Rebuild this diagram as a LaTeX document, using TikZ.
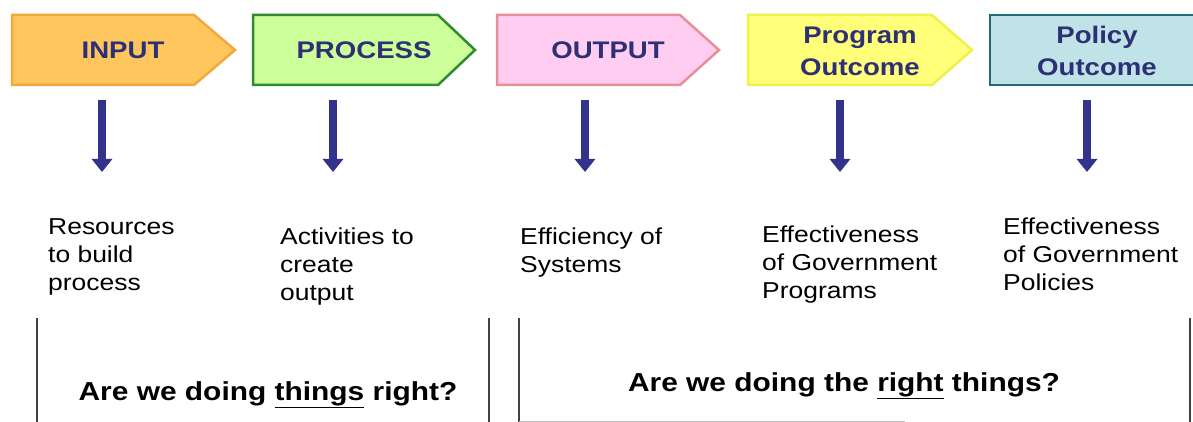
\documentclass[tikz,border=0pt]{standalone}
\usepackage{fontspec}
\setmainfont{Liberation Sans}[FakeStretch=1.15]
\usetikzlibrary{arrows.meta}

\definecolor{inputfill}{HTML}{FFC65E}
\definecolor{inputdraw}{HTML}{F2A93B}
\definecolor{procfill}{HTML}{CCFF99}
\definecolor{procdraw}{HTML}{2E8B2E}
\definecolor{outfill}{HTML}{FFCCF2}
\definecolor{outdraw}{HTML}{E8909A}
\definecolor{progfill}{HTML}{FFFF7A}
\definecolor{progdraw}{HTML}{F0F04A}
\definecolor{polfill}{HTML}{BFE3E6}
\definecolor{poldraw}{HTML}{1F6B7A}
\definecolor{textblue}{HTML}{2E3075}
\definecolor{arrowblue}{HTML}{33338C}

\tikzset{
	headtext/.style={font=\fontsize{24}{32}\selectfont\bfseries, text=textblue, align=center, inner sep=0pt},
	desctext/.style={font=\fontsize{23}{28}\selectfont, align=left, anchor=base west, inner sep=0pt},
	asktext/.style={font=\fontsize{26}{30}\selectfont\bfseries, anchor=base, inner sep=0pt},
	downarrow/.style={draw=arrowblue, line width=8pt, -{Triangle[width=20pt,length=13pt]}},
	framerule/.style={draw=black!75, line width=1.5pt},
}

\begin{document}
\begin{tikzpicture}[x=1pt,y=-1pt]
					\useasboundingbox (0,0) rectangle (1193,422);
					\clip (0,0) rectangle (1193,422);

					\def\boxTop{15};
					\def\boxBot{85};
					\def\boxMid{50};
					\def\arrowTop{100};
					\def\arrowBot{172};

					% chevrons
					\begin{scope}[line width=2.5pt, line join=miter]
						\draw [draw=inputdraw, fill=inputfill] (12,\boxTop) -- (194,\boxTop) -- (235,\boxMid) -- (194,\boxBot) -- (12,\boxBot) -- cycle;
						\draw [draw=procdraw, fill=procfill] (253,\boxTop) -- (438,\boxTop) -- (475,\boxMid) -- (438,\boxBot) -- (253,\boxBot) -- cycle;
						\draw [draw=outdraw, fill=outfill] (497,\boxTop) -- (680,\boxTop) -- (719,\boxMid) -- (680,\boxBot) -- (497,\boxBot) -- cycle;
						\draw [draw=progdraw, fill=progfill] (748,\boxTop) -- (932,\boxTop) -- (972,\boxMid) -- (932,\boxBot) -- (748,\boxBot) -- cycle;
						\draw [draw=poldraw, fill=polfill] (990,\boxTop) rectangle (1204,\boxBot);
					\end{scope}

					\node [headtext] (input) at (123,\boxMid) {INPUT};
					\node [headtext] (process) at (364,\boxMid) {PROCESS};
					\node [headtext] (output) at (608,\boxMid) {OUTPUT};
					\node [headtext] (program) at (860,51) {Program\\Outcome};
					\node [headtext] (policy) at (1097,51) {Policy\\Outcome};

					% arrows down
					\begin{scope}
						\coordinate (inputA) at (102,\arrowTop);
						\coordinate (inputB) at (102,\arrowBot);
						\coordinate (processA) at (333,\arrowTop);
						\coordinate (processB) at (333,\arrowBot);
						\coordinate (outputA) at (585,\arrowTop);
						\coordinate (outputB) at (585,\arrowBot);
						\coordinate (programA) at (840,\arrowTop);
						\coordinate (programB) at (840,\arrowBot);
						\coordinate (policyA) at (1087,\arrowTop);
						\coordinate (policyB) at (1087,\arrowBot);
						\draw [downarrow] (inputA) -- (inputB);
						\draw [downarrow] (processA) -- (processB);
						\draw [downarrow] (outputA) -- (outputB);
						\draw [downarrow] (programA) -- (programB);
						\draw [downarrow] (policyA) -- (policyB);
					\end{scope}

					% base anchor sits on the last line
					\node [desctext] (resources) at (48,290) {Resources\\to build\\process};
					\node [desctext] (activities) at (280,300) {Activities to\\create\\output};
					\node [desctext] (efficiency) at (520,272) {Efficiency of\\Systems};
					\node [desctext] (programs) at (762,298) {Effectiveness\\of Government\\Programs};
					\node [desctext] (policies) at (1003,290) {Effectiveness\\of Government\\Policies};

					% question frames
					\begin{scope}[framerule]
						\draw (37,318) -- (37,422);
						\draw (489,318) -- (489,422);
						\draw (519,318) -- (519,422);
						\draw (1190,318) -- (1190,422);
						\draw [draw=black!25, line width=1pt] (519,421) -- (905,421);
					\end{scope}

					\node [asktext] (doingRight) at (268,400) {Are we doing \underline{things} right?};
					\node [asktext] (rightThings) at (844,391) {Are we doing the \underline{right} things?};

				\end{tikzpicture}
\end{document}
